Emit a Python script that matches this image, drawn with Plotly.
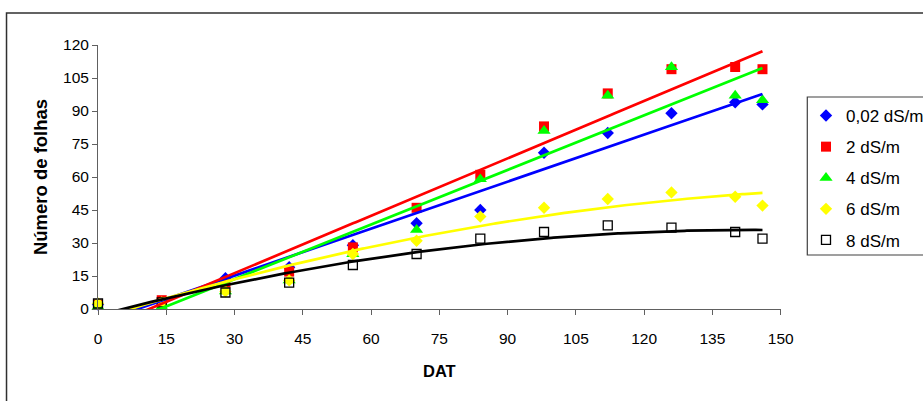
import numpy as np
import plotly.graph_objects as go

# ---- data ----
dat = [0, 14, 28, 42, 56, 70, 84, 98, 112, 126, 140, 146]
s_002 = [2, 3, 14, 19, 29, 39, 45, 71, 80, 89, 94, 93]
s_2 = [2, 4, 12, 17, 28, 46, 61, 83, 98, 109, 110, 109]
s_4 = [1, 1, 8, 13, 25, 36, 59, 81, 97, 110, 97, 95]
s_6 = [2.5, 3, 8, 13, 25, 31, 42, 46, 50, 53, 51, 47]
s_8 = [2.5, 3, 7.5, 12, 20, 25, 32, 35, 38, 37, 35, 32]
names = ["0,02 dS/m", "2 dS/m", "4 dS/m", "6 dS/m", "8 dS/m"]
trend_degree = [1, 1, 1, 2, 2]
x_ticks = list(range(0, 151, 15))
y_ticks = list(range(0, 121, 15))

series = [s_002, s_2, s_4, s_6, s_8]
colors = ["#0000FF", "#FF0000", "#00FF00", "#FFFF00", "#000000"]
symbols = ["diamond", "square", "triangle-up", "diamond", "square-open"]
sizes = [9.5, 10, 11.5, 9.5, 9]

fig = go.Figure()
xs = np.linspace(min(dat), max(dat), 300)

for i, (ys, nm) in enumerate(zip(series, names)):
    mk = dict(symbol=symbols[i], size=sizes[i], color=colors[i])
    if symbols[i] == "square-open":
        mk["line"] = dict(color=colors[i], width=1.3)
    fig.add_trace(go.Scatter(
        x=dat, y=ys, mode="markers", name=nm, marker=mk,
        cliponaxis=False, legendgroup=nm, showlegend=True))

for i, ys in enumerate(series):
    coef = np.polyfit(dat, ys, trend_degree[i])
    fig.add_trace(go.Scatter(
        x=xs, y=np.polyval(coef, xs), mode="lines",
        line=dict(color=colors[i], width=2.7), showlegend=False,
        hoverinfo="skip"))

font = "Liberation Sans, Arial, sans-serif"
fig.update_layout(
    width=923, height=401,
    margin=dict(l=98, r=132, t=45, b=92),
    paper_bgcolor="white", plot_bgcolor="white",
    font=dict(family=font, size=15.5, color="black"),
    xaxis=dict(range=[0, 150], tickvals=x_ticks, showgrid=False, zeroline=False,
               showline=True, linecolor="#606060", linewidth=1,
               ticks="outside", ticklen=5, tickcolor="#606060",
               ticklabelstandoff=10,
               title=dict(text="<b>DAT</b>", font=dict(size=16.5), standoff=19)),
    yaxis=dict(range=[0, 120], tickvals=y_ticks, showgrid=False, zeroline=False,
               showline=True, linecolor="#606060", linewidth=1,
               ticks="outside", ticklen=5, tickcolor="#606060",
               title=dict(text="<b>Número de folhas</b>", font=dict(size=18.5), standoff=10)),
    legend=dict(xref="container", yref="container", x=806 / 923, y=1 - 98 / 401,
                xanchor="left", yanchor="top",
                borderwidth=0, bgcolor="rgba(0,0,0,0)",
                font=dict(size=17), tracegroupgap=6, itemwidth=30),
    shapes=[
        dict(type="rect", xref="paper", yref="paper",
             x0=-0.134, x1=1.5, y0=-0.6, y1=1.121,
             line=dict(color="#303030", width=1.5)),
        dict(type="rect", xref="paper", yref="paper",
             x0=(818 - 98) / 693, x1=1.5, y0=(309 - 255) / 264, y1=(309 - 97) / 264,
             line=dict(color="#404040", width=1.2)),
    ],
)

fig.write_html("out.html", config={"displayModeBar": False},
               post_script="document.body.style.margin='0';")
